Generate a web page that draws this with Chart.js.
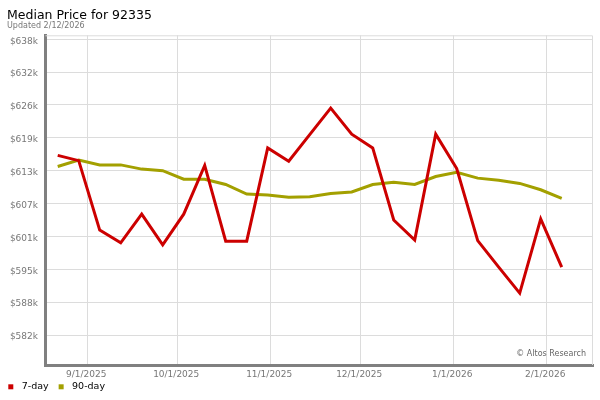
<!DOCTYPE html>
<html>
<head>
<meta charset="utf-8">
<title>Median Price for 92335</title>
<script src="https://cdn.jsdelivr.net/npm/chart.js@4/dist/chart.umd.min.js"></script>
<style>
  html, body { margin: 0; padding: 0; background: #fff; }
  #chart { display: block; }
</style>
</head>
<body>
<canvas id="chart" width="600" height="400"></canvas>
<script>
// weekly sample dates (Fridays)
const weeks = [
  '2025-08-22', '2025-08-29', '2025-09-05', '2025-09-12', '2025-09-19',
  '2025-09-26', '2025-10-03', '2025-10-10', '2025-10-17', '2025-10-24',
  '2025-10-31', '2025-11-07', '2025-11-14', '2025-11-21', '2025-11-28',
  '2025-12-05', '2025-12-12', '2025-12-19', '2025-12-26', '2026-01-02',
  '2026-01-09', '2026-01-16', '2026-01-23', '2026-01-30', '2026-02-06'
];

const sevenDay = [
  616100, 615100, 602000, 599600, 605000, 599200, 605000, 614200, 599900, 599900,
  617500, 615000, 620000, 625000, 620100, 617500, 603900, 600100, 620100, 613600,
  600000, 595000, 590100, 604100, 595000
];

const ninetyDay = [
  614000, 615200, 614300, 614300, 613500, 613200, 611600, 611600, 610600, 608800,
  608600, 608200, 608300, 608900, 609200, 610600, 611000, 610600, 612100, 612900,
  611800, 611400, 610800, 609600, 608000
];

const monthTicks  = ['2025-09-01', '2025-10-01', '2025-11-01', '2025-12-01', '2026-01-01', '2026-02-01'];
const monthLabels = ['9/1/2025', '10/1/2025', '11/1/2025', '12/1/2025', '1/1/2026', '2/1/2026'];

const priceTicks  = [582200, 588400, 594600, 600800, 607000, 613200, 619400, 625600, 631800, 638000];
const priceLabels = ['$582k', '$588k', '$595k', '$601k', '$607k', '$613k', '$619k', '$626k', '$632k', '$638k'];

// days relative to 9/1/2025 so the x axis can stay linear
const day0 = Date.parse('2025-09-01');
const toDay = s => (Date.parse(s) - day0) / 864e5;

const red   = '#cc0000';
const olive = '#a3a000';
const grid  = '#dcdcdc';
const axis  = '#808080';
const tick  = '#777';

Chart.defaults.font.family = "'DejaVu Sans', sans-serif";

// light frame on top / right of plot
const frame = {
  id: 'frame',
  beforeDatasetsDraw(chart) {
    const { ctx, chartArea: a } = chart;
    ctx.save();
    ctx.strokeStyle = grid;
    ctx.lineWidth = 1;
    ctx.beginPath();
    ctx.moveTo(a.left, a.top + 0.5);
    ctx.lineTo(a.right - 0.5, a.top + 0.5);
    ctx.lineTo(a.right - 0.5, a.bottom);
    ctx.stroke();
    ctx.restore();
  }
};

// legend under the axis + credit inside the plot
const footer = {
  id: 'footer',
  afterDraw(chart) {
    const { ctx, chartArea: a } = chart;
    ctx.save();
    ctx.font = "8px 'DejaVu Sans'";
    ctx.fillStyle = '#666';
    ctx.textAlign = 'right';
    ctx.textBaseline = 'middle';
    ctx.fillText('\u00a9 Altos Research', a.right - 7, 354);

    ctx.font = "9.5px 'DejaVu Sans'";
    ctx.textAlign = 'left';
    let x = 8.3;
    const y = 386.6;
    chart.data.datasets.forEach(ds => {
      ctx.fillStyle = ds.borderColor;
      ctx.fillRect(x, y - 2.3, 5, 5);
      ctx.fillStyle = '#000';
      ctx.fillText(ds.label, x + 13.4, y);
      x += 13.4 + ctx.measureText(ds.label).width + 10;
    });
    ctx.restore();
  }
};

new Chart(document.getElementById('chart'), {
  type: 'line',
  data: {
    datasets: [
      {
        label: '7-day',
        data: weeks.map((d, i) => ({ x: toDay(d), y: sevenDay[i] })),
        borderColor: red,
        backgroundColor: red,
        borderWidth: 3,
        pointRadius: 0,
        tension: 0,
      },
      {
        label: '90-day',
        data: weeks.map((d, i) => ({ x: toDay(d), y: ninetyDay[i] })),
        borderColor: olive,
        backgroundColor: olive,
        borderWidth: 3,
        pointRadius: 0,
        tension: 0,
      },
    ],
  },
  options: {
    responsive: false,
    animation: false,
    layout: { padding: { left: 7, right: 7, top: 0, bottom: 0 } },
    plugins: {
      legend: { display: false },
      tooltip: { enabled: false },
      title: {
        display: true,
        text: 'Median Price for 92335',
        align: 'start',
        color: '#000',
        font: { size: 12.5, weight: 'normal', lineHeight: 0.9 },
        padding: { top: 10, bottom: 0 },
      },
      subtitle: {
        display: true,
        text: 'Updated 2/12/2026',
        align: 'start',
        color: '#777',
        font: { size: 8, lineHeight: 0.8 },
        padding: { top: 1.2, bottom: 6.45 },
      },
    },
    scales: {
      x: {
        type: 'linear',
        min: -14.07,
        max: 168.43,
        afterFit: s => { s.height = 35; },
        afterBuildTicks: s => { s.ticks = monthTicks.map(d => ({ value: toDay(d) })); },
        ticks: {
          color: tick,
          font: { size: 9 },
          padding: 4,
          labelOffset: -1.5,
          maxRotation: 0,
          autoSkip: false,
          callback: (v, i) => monthLabels[i],
        },
        grid: { color: grid, drawTicks: false },
        border: { color: axis, width: 3 },
      },
      y: {
        min: 576540,
        max: 638750,
        afterFit: s => { s.width = 38.5; },
        afterBuildTicks: s => { s.ticks = priceTicks.map(v => ({ value: v })); },
        ticks: {
          color: tick,
          font: { size: 9 },
          padding: 7.5,
          labelOffset: 2,
          autoSkip: false,
          callback: (v, i) => priceLabels[i],
        },
        grid: { color: grid, drawTicks: false },
        border: { color: axis, width: 3 },
      },
    },
  },
  plugins: [frame, footer],
});
</script>
</body>
</html>
